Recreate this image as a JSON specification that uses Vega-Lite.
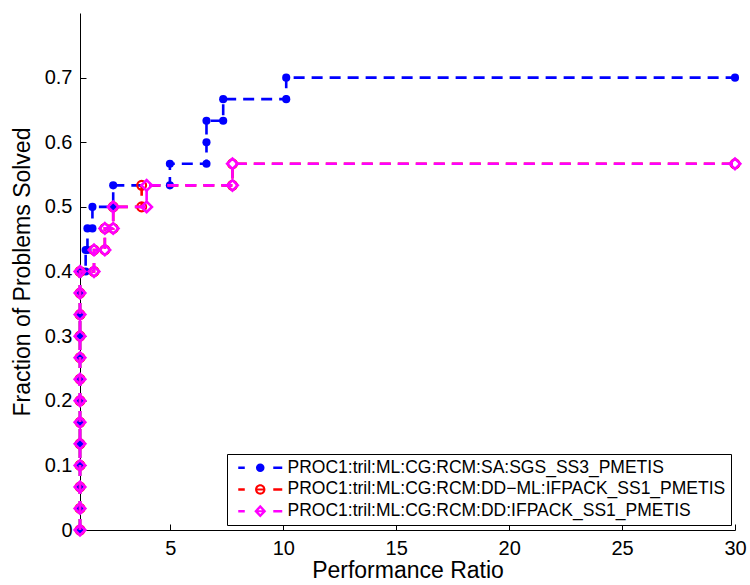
{
  "$schema": "https://vega.github.io/schema/vega-lite/v6.json",
  "width": 655,
  "height": 517,
  "autosize": "none",
  "padding": {"left": 80, "top": 13, "right": 15, "bottom": 55},
  "background": "white",
  "config": {
    "font": "Liberation Sans",
    "view": {"stroke": null},
    "axis": {"grid": false, "domainColor": "black", "tickColor": "black", "labelColor": "black", "titleColor": "black", "labelFont": "Liberation Sans", "titleFont": "Liberation Sans", "labelFontSize": 20, "titleFontSize": 23, "titleFontWeight": "normal", "tickSize": -6, "labelFlush": false, "labelOverlap": false, "domainWidth": 1, "tickWidth": 1},
    "legend": {"orient": "none", "legendX": 147, "legendY": 441, "title": null, "labelFont": "Liberation Sans", "labelFontSize": 17.5, "labelColor": "black", "labelLimit": 700, "symbolSize": 81, "symbolStrokeWidth": 0, "symbolOpacity": 1, "strokeColor": "black", "fillColor": "white", "padding": 5, "rowPadding": 2.7, "labelOffset": 36, "symbolOffset": 2}
  },
  "data": {
    "values": [
      {"s": "SA", "i": 0, "x": 1, "y": 0},
      {"s": "SA", "i": 1, "x": 1, "y": 0.03333},
      {"s": "SA", "i": 2, "x": 1, "y": 0.06667},
      {"s": "SA", "i": 3, "x": 1, "y": 0.1},
      {"s": "SA", "i": 4, "x": 1, "y": 0.13333},
      {"s": "SA", "i": 5, "x": 1, "y": 0.16667},
      {"s": "SA", "i": 6, "x": 1, "y": 0.2},
      {"s": "SA", "i": 7, "x": 1, "y": 0.23333},
      {"s": "SA", "i": 8, "x": 1, "y": 0.26667},
      {"s": "SA", "i": 9, "x": 1, "y": 0.3},
      {"s": "SA", "i": 10, "x": 1, "y": 0.33333},
      {"s": "SA", "i": 11, "x": 1, "y": 0.36667},
      {"s": "SA", "i": 12, "x": 1, "y": 0.4},
      {"s": "SA", "i": 13, "x": 1.25, "y": 0.4},
      {"s": "SA", "i": 14, "x": 1.25, "y": 0.43333},
      {"s": "SA", "i": 15, "x": 1.33, "y": 0.43333},
      {"s": "SA", "i": 16, "x": 1.33, "y": 0.46667},
      {"s": "SA", "i": 17, "x": 1.55, "y": 0.46667},
      {"s": "SA", "i": 18, "x": 1.55, "y": 0.5},
      {"s": "SA", "i": 19, "x": 2.47, "y": 0.5},
      {"s": "SA", "i": 20, "x": 2.47, "y": 0.53333},
      {"s": "SA", "i": 21, "x": 4.98, "y": 0.53333},
      {"s": "SA", "i": 22, "x": 4.98, "y": 0.56667},
      {"s": "SA", "i": 23, "x": 6.6, "y": 0.56667},
      {"s": "SA", "i": 24, "x": 6.6, "y": 0.6},
      {"s": "SA", "i": 25, "x": 6.6, "y": 0.63333},
      {"s": "SA", "i": 26, "x": 7.34, "y": 0.63333},
      {"s": "SA", "i": 27, "x": 7.34, "y": 0.66667},
      {"s": "SA", "i": 28, "x": 10.13, "y": 0.66667},
      {"s": "SA", "i": 29, "x": 10.13, "y": 0.7},
      {"s": "SA", "i": 30, "x": 30, "y": 0.7},
      {"s": "DDML", "i": 0, "x": 1, "y": 0},
      {"s": "DDML", "i": 1, "x": 1, "y": 0.03333},
      {"s": "DDML", "i": 2, "x": 1, "y": 0.06667},
      {"s": "DDML", "i": 3, "x": 1, "y": 0.1},
      {"s": "DDML", "i": 4, "x": 1, "y": 0.13333},
      {"s": "DDML", "i": 5, "x": 1, "y": 0.16667},
      {"s": "DDML", "i": 6, "x": 1, "y": 0.2},
      {"s": "DDML", "i": 7, "x": 1, "y": 0.23333},
      {"s": "DDML", "i": 8, "x": 1, "y": 0.26667},
      {"s": "DDML", "i": 9, "x": 1, "y": 0.3},
      {"s": "DDML", "i": 10, "x": 1, "y": 0.33333},
      {"s": "DDML", "i": 11, "x": 1, "y": 0.36667},
      {"s": "DDML", "i": 12, "x": 1, "y": 0.4},
      {"s": "DDML", "i": 13, "x": 1.62, "y": 0.4},
      {"s": "DDML", "i": 14, "x": 1.62, "y": 0.43333},
      {"s": "DDML", "i": 15, "x": 2.1, "y": 0.43333},
      {"s": "DDML", "i": 16, "x": 2.1, "y": 0.46667},
      {"s": "DDML", "i": 17, "x": 2.47, "y": 0.46667},
      {"s": "DDML", "i": 18, "x": 2.47, "y": 0.5},
      {"s": "DDML", "i": 19, "x": 3.73, "y": 0.5},
      {"s": "DDML", "i": 20, "x": 3.73, "y": 0.53333},
      {"s": "DDML", "i": 21, "x": 7.75, "y": 0.53333},
      {"s": "DDML", "i": 22, "x": 7.75, "y": 0.56667},
      {"s": "DDML", "i": 23, "x": 30, "y": 0.56667},
      {"s": "DD", "i": 0, "x": 1, "y": 0},
      {"s": "DD", "i": 1, "x": 1, "y": 0.03333},
      {"s": "DD", "i": 2, "x": 1, "y": 0.06667},
      {"s": "DD", "i": 3, "x": 1, "y": 0.1},
      {"s": "DD", "i": 4, "x": 1, "y": 0.13333},
      {"s": "DD", "i": 5, "x": 1, "y": 0.16667},
      {"s": "DD", "i": 6, "x": 1, "y": 0.2},
      {"s": "DD", "i": 7, "x": 1, "y": 0.23333},
      {"s": "DD", "i": 8, "x": 1, "y": 0.26667},
      {"s": "DD", "i": 9, "x": 1, "y": 0.3},
      {"s": "DD", "i": 10, "x": 1, "y": 0.33333},
      {"s": "DD", "i": 11, "x": 1, "y": 0.36667},
      {"s": "DD", "i": 12, "x": 1, "y": 0.4},
      {"s": "DD", "i": 13, "x": 1.62, "y": 0.4},
      {"s": "DD", "i": 14, "x": 1.62, "y": 0.43333},
      {"s": "DD", "i": 15, "x": 2.1, "y": 0.43333},
      {"s": "DD", "i": 16, "x": 2.1, "y": 0.46667},
      {"s": "DD", "i": 17, "x": 2.47, "y": 0.46667},
      {"s": "DD", "i": 18, "x": 2.47, "y": 0.5},
      {"s": "DD", "i": 19, "x": 3.95, "y": 0.5},
      {"s": "DD", "i": 20, "x": 3.95, "y": 0.53333},
      {"s": "DD", "i": 21, "x": 7.75, "y": 0.53333},
      {"s": "DD", "i": 22, "x": 7.75, "y": 0.56667},
      {"s": "DD", "i": 23, "x": 30, "y": 0.56667}
    ]
  },
  "encoding": {
    "x": {"field": "x", "type": "quantitative", "scale": {"domain": [1, 30], "nice": false, "zero": false},
      "axis": {"title": "Performance Ratio", "values": [5, 10, 15, 20, 25, 30], "labelPadding": 14, "titlePadding": 1}},
    "y": {"field": "y", "type": "quantitative", "scale": {"domain": [0, 0.8], "nice": false},
      "axis": {"title": "Fraction of Problems Solved", "values": [0, 0.1, 0.2, 0.3, 0.4, 0.5, 0.6, 0.7], "labelExpr": "datum.value == 0 ? '0' : format(datum.value, '.1f')", "labelPadding": 14, "titlePadding": 10}},
    "order": {"field": "i", "type": "quantitative"}
  },
  "layer": [
    {"transform": [{"filter": "datum.s == 'SA'"}], "mark": {"type": "line", "color": "#0000ff", "strokeWidth": 2.6, "strokeDash": [11, 7]}},
    {"transform": [{"filter": "datum.s == 'SA'"}], "mark": {"type": "point", "shape": "circle", "filled": true, "color": "#0000ff", "size": 66, "opacity": 1}},
    {"transform": [{"filter": "datum.s == 'DDML'"}], "mark": {"type": "line", "color": "#ff0000", "strokeWidth": 2.6, "strokeDash": [11, 7]}},
    {"transform": [{"filter": "datum.s == 'DDML'"}], "mark": {"type": "point", "shape": "circle", "filled": false, "color": "#ff0000", "strokeWidth": 2.2, "size": 78, "opacity": 1}},
    {"transform": [{"filter": "datum.s == 'DD'"}], "mark": {"type": "line", "color": "#ff00ff", "strokeWidth": 2.6, "strokeDash": [11, 7]}},
    {"transform": [{"filter": "datum.s == 'DD'"}], "mark": {"type": "point", "shape": "diamond", "filled": false, "color": "#ff00ff", "strokeWidth": 2.6, "size": 112, "opacity": 1}},
    {"transform": [{"filter": "false"}], "mark": {"type": "point", "filled": true, "opacity": 1},
      "encoding": {
        "color": {"field": "s", "type": "nominal", "scale": {"domain": ["PROC1:tril:ML:CG:RCM:SA:SGS_SS3_PMETIS", "PROC1:tril:ML:CG:RCM:DD−ML:IFPACK_SS1_PMETIS", "PROC1:tril:ML:CG:RCM:DD:IFPACK_SS1_PMETIS"], "range": ["#0000ff", "#ff0000", "#ff00ff"]}, "legend": {}},
        "shape": {"field": "s", "type": "nominal", "scale": {"domain": ["PROC1:tril:ML:CG:RCM:SA:SGS_SS3_PMETIS", "PROC1:tril:ML:CG:RCM:DD−ML:IFPACK_SS1_PMETIS", "PROC1:tril:ML:CG:RCM:DD:IFPACK_SS1_PMETIS"], "range": [
          "M-1,-0.28H0.45V0.28H-1Z M6.78,-0.28H8.78V0.28H6.78Z M4.84,0A0.95,0.95 0 1,1 2.94,0A0.95,0.95 0 1,1 4.84,0Z",
          "M-1,-0.28H0.45V0.28H-1Z M6.78,-0.28H8.78V0.28H6.78Z M5.04,0A1.15,1.15 0 1,1 2.74,0A1.15,1.15 0 1,1 5.04,0Z M4.59,0A0.7,0.7 0 1,0 3.19,0A0.7,0.7 0 1,0 4.59,0Z M3.19,-0.22H4.59V0.22H3.19Z",
          "M-1,-0.28H0.45V0.28H-1Z M6.78,-0.28H8.78V0.28H6.78Z M3.89,-1.4L5.22,0L3.89,1.4L2.56,0Z M3.89,-0.62L3.27,0L3.89,0.62L4.51,0Z M3.27,-0.22H4.51V0.22H3.27Z"
        ]}, "legend": {}},
        "order": null
      }
    }
  ]
}
